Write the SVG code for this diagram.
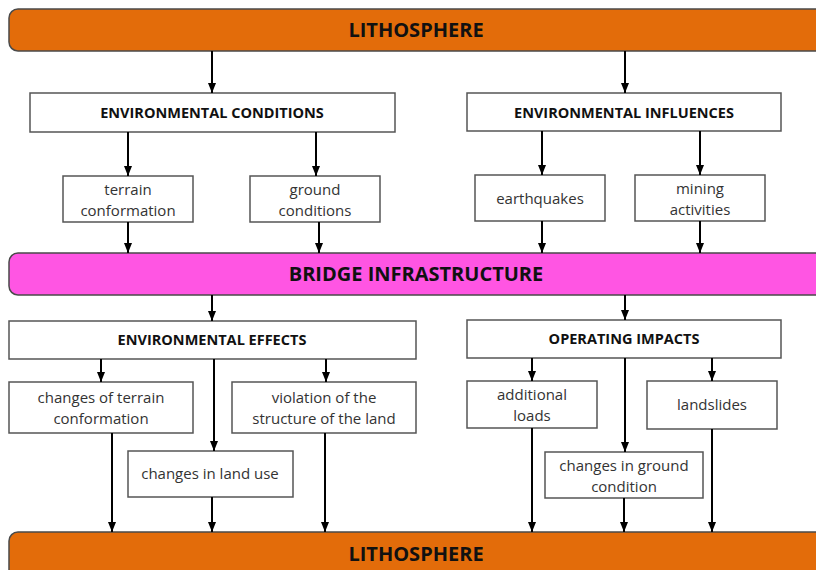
<svg xmlns="http://www.w3.org/2000/svg" width="816" height="570" viewBox="0 0 816 570">
<defs>
<marker id="ah" viewBox="0 0 10 8" refX="10" refY="4" markerWidth="10" markerHeight="8" markerUnits="userSpaceOnUse" orient="auto">
<path d="M0,0 L10,4 L0,8 z" fill="#000"/>
</marker>
<style>
.bar{stroke:#4a4a4a;stroke-width:1.5}
.orange{fill:#E36C0A}
.pink{fill:#FF55E3}
.box{fill:#fff;stroke:#555;stroke-width:1.5}
.big{font-family:"Open Sans","Liberation Sans",sans-serif;font-weight:bold;font-size:20px;fill:#111;text-anchor:middle}
.hd{font-family:"Open Sans","Liberation Sans",sans-serif;font-weight:bold;font-size:14.5px;fill:#111;text-anchor:middle}
.tx{font-family:"Open Sans","Liberation Sans",sans-serif;font-size:15px;fill:#333;text-anchor:middle}
.conn line{stroke:#000;stroke-width:2;marker-end:url(#ah)}
</style>
</defs>
<rect width="816" height="570" fill="#fff"/>

<g id="lithosphere-top">
<rect class="bar orange" x="9" y="9" width="820" height="42" rx="9"/>
<text class="big" x="416" y="37">LITHOSPHERE</text>
</g>

<g id="env-conditions">
<rect class="box" x="30" y="93" width="365" height="39"/>
<text class="hd" x="212" y="118">ENVIRONMENTAL CONDITIONS</text>
</g>
<g id="env-influences">
<rect class="box" x="467" y="93" width="314" height="38"/>
<text class="hd" x="624" y="118">ENVIRONMENTAL INFLUENCES</text>
</g>

<g id="terrain-conformation">
<rect class="box" x="63" y="176" width="130" height="46"/>
<text class="tx" x="128" y="195">terrain</text>
<text class="tx" x="128" y="216">conformation</text>
</g>
<g id="ground-conditions">
<rect class="box" x="250" y="176" width="130" height="46"/>
<text class="tx" x="315" y="195">ground</text>
<text class="tx" x="315" y="216">conditions</text>
</g>
<g id="earthquakes">
<rect class="box" x="475" y="175" width="130" height="46"/>
<text class="tx" x="540" y="204">earthquakes</text>
</g>
<g id="mining-activities">
<rect class="box" x="635" y="175" width="130" height="46"/>
<text class="tx" x="700" y="194">mining</text>
<text class="tx" x="700" y="215">activities</text>
</g>

<g id="bridge-infrastructure">
<rect class="bar pink" x="9" y="253" width="820" height="42" rx="9"/>
<text class="big" x="416" y="281">BRIDGE INFRASTRUCTURE</text>
</g>

<g id="env-effects">
<rect class="box" x="9" y="321" width="407" height="38"/>
<text class="hd" x="212" y="345">ENVIRONMENTAL EFFECTS</text>
</g>
<g id="operating-impacts">
<rect class="box" x="467" y="320" width="314" height="38"/>
<text class="hd" x="624" y="344">OPERATING IMPACTS</text>
</g>

<g id="changes-terrain">
<rect class="box" x="9" y="382" width="184" height="51"/>
<text class="tx" x="101" y="403">changes of terrain</text>
<text class="tx" x="101" y="424">conformation</text>
</g>
<g id="violation-structure">
<rect class="box" x="232" y="382" width="184" height="51"/>
<text class="tx" x="324" y="403">violation of the</text>
<text class="tx" x="324" y="424">structure of the land</text>
</g>
<g id="changes-land-use">
<rect class="box" x="128" y="451" width="165" height="46"/>
<text class="tx" x="210" y="479">changes in land use</text>
</g>
<g id="additional-loads">
<rect class="box" x="467" y="381" width="130" height="47"/>
<text class="tx" x="532" y="400">additional</text>
<text class="tx" x="532" y="421">loads</text>
</g>
<g id="landslides">
<rect class="box" x="647" y="381" width="130" height="48"/>
<text class="tx" x="712" y="410">landslides</text>
</g>
<g id="changes-ground">
<rect class="box" x="545" y="452" width="158" height="46"/>
<text class="tx" x="624" y="471">changes in ground</text>
<text class="tx" x="624" y="492">condition</text>
</g>

<g id="lithosphere-bottom">
<rect class="bar orange" x="9" y="532" width="820" height="50" rx="9"/>
<text class="big" x="416" y="561">LITHOSPHERE</text>
</g>

<g id="connectors" class="conn">
<line x1="212" y1="51" x2="212" y2="93"/>
<line x1="625" y1="51" x2="625" y2="93"/>
<line x1="128" y1="132" x2="128" y2="176"/>
<line x1="316" y1="132" x2="316" y2="176"/>
<line x1="542" y1="131" x2="542" y2="175"/>
<line x1="700" y1="131" x2="700" y2="175"/>
<line x1="128" y1="222" x2="128" y2="253"/>
<line x1="319" y1="222" x2="319" y2="253"/>
<line x1="542" y1="221" x2="542" y2="253"/>
<line x1="700" y1="221" x2="700" y2="253"/>
<line x1="212" y1="295" x2="212" y2="321"/>
<line x1="625" y1="295" x2="625" y2="320"/>
<line x1="101" y1="359" x2="101" y2="382"/>
<line x1="326" y1="359" x2="326" y2="382"/>
<line x1="214" y1="359" x2="214" y2="451"/>
<line x1="532" y1="358" x2="532" y2="381"/>
<line x1="625" y1="358" x2="625" y2="452"/>
<line x1="712" y1="358" x2="712" y2="381"/>
<line x1="112" y1="433" x2="112" y2="532"/>
<line x1="212" y1="497" x2="212" y2="532"/>
<line x1="325" y1="433" x2="325" y2="532"/>
<line x1="532" y1="428" x2="532" y2="532"/>
<line x1="624" y1="498" x2="624" y2="532"/>
<line x1="712" y1="429" x2="712" y2="532"/>
</g>
</svg>
